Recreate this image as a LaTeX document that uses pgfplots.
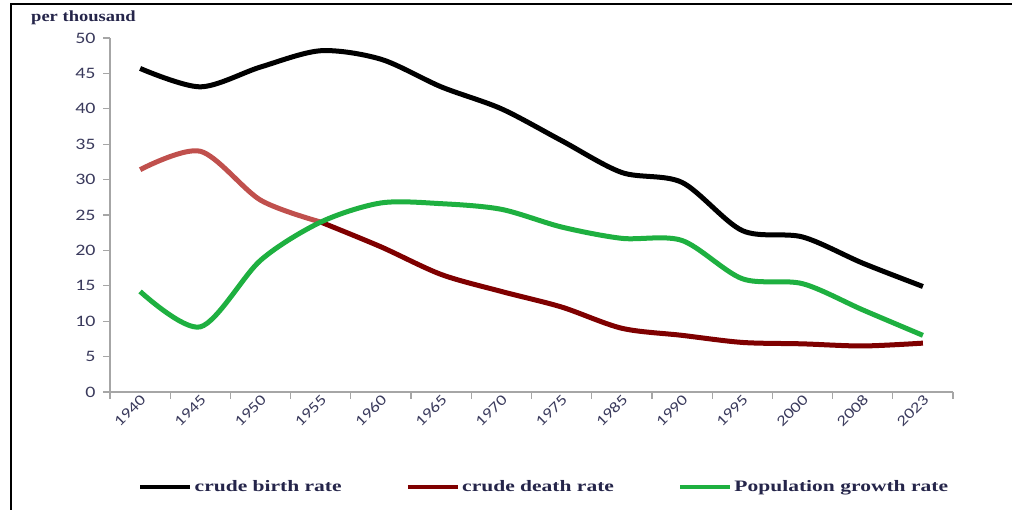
\documentclass[border=0pt]{standalone}
\usepackage{fontspec}
\usepackage{pgfplots}
\pgfplotsset{compat=1.18}
\setmainfont{Carlito}
\newfontfamily\tickfont[FakeStretch=1.25]{Carlito}
\newfontfamily\legfont[FakeStretch=1.2]{Liberation Serif}
\newfontfamily\legbfont[FakeStretch=1.35]{Liberation Serif}
\definecolor{txt}{HTML}{3A3A5C}
\definecolor{legtxt}{HTML}{25254A}
\definecolor{cbr}{HTML}{000000}
\definecolor{cdrA}{HTML}{C0504D}
\definecolor{cdrB}{HTML}{7F0000}
\definecolor{pgr}{HTML}{1EB040}
\begin{document}
\begin{tikzpicture}[x=1bp,y=1bp]
\path[use as bounding box] (0,0) rectangle (1012,510);
\draw[line width=2bp] (11,0) -- (11,506) -- (1012,506);
\node[font=\legfont\bfseries\fontsize{15.5}{15.5}\selectfont, text=legtxt, anchor=west, inner sep=0pt] at (31,492) {per thousand};
\begin{axis}[
  at={(110bp,118bp)}, anchor=south west,
  scale only axis, width=843bp, height=354bp,
  axis lines*=left,
  axis line style={-, draw=gray!70, line width=1.3bp},
  xmin=-0.5, xmax=13.5, ymin=0, ymax=50,
  ytick={0,5,...,50},
  xtick={0,...,13},
  xticklabels={1940,1945,1950,1955,1960,1965,1970,1975,1985,1990,1995,2000,2008,2023},
  minor xtick={-0.5,0.5,...,13.5},
  major x tick style={draw=none},
  tick style={draw=gray!70, line width=1.2bp},
  tick align=outside,
  major tick length=7bp, minor tick length=7bp,
  x tick label style={rotate=45, anchor=east, font=\tickfont\fontsize{15}{15}\selectfont, text=txt, xshift=7bp, yshift=-1bp},
  y tick label style={font=\tickfont\fontsize{16}{16}\selectfont, text=txt},
  /pgf/number format/assume math mode=true,
  yticklabel style={xshift=-4bp},
  clip=false,
  legend columns=3,
  legend style={draw=none, fill=none, at={(0.515,-0.268)}, anchor=center,
    font=\legbfont\bfseries\fontsize{16}{16}\selectfont, text=legtxt,
    /tikz/every even column/.append style={column sep=62bp}},
  legend cell align=left,
  legend image code/.code={\draw[#1, line width=4.5bp] (0bp,0bp) -- (50bp,0bp);},
]
\addplot[cbr, line width=5bp, smooth, tension=0.5] coordinates {
(0,45.7) (1,43.1) (2,45.9) (3,48.2) (4,47.0) (5,43.1) (6,40.0) (7,35.5) (8,31.0) (9,29.6) (10,22.8) (11,21.9) (12,18.2) (13,14.9)};
\addlegendentry{crude birth rate}
\addplot[cdrA, line width=5bp, smooth, tension=0.5, forget plot] coordinates {
(0,31.4) (1,34.0) (2,27.1) (3,24.0)};
\addplot[cdrB, line width=5bp, smooth, tension=0.5] coordinates {
(3,24.0) (4,20.5) (5,16.6) (6,14.2) (7,12.0) (8,9.0) (9,8.0) (10,7.0) (11,6.8) (12,6.5) (13,6.9)};
\addlegendentry{crude death rate}
\addplot[pgr, line width=5bp, smooth, tension=0.5] coordinates {
(0,14.2) (1,9.2) (2,18.6) (3,24.0) (4,26.7) (5,26.6) (6,25.8) (7,23.3) (8,21.7) (9,21.4) (10,16.0) (11,15.3) (12,11.6) (13,8.0)};
\addlegendentry{Population growth rate}
\end{axis}
\end{tikzpicture}
\end{document}
